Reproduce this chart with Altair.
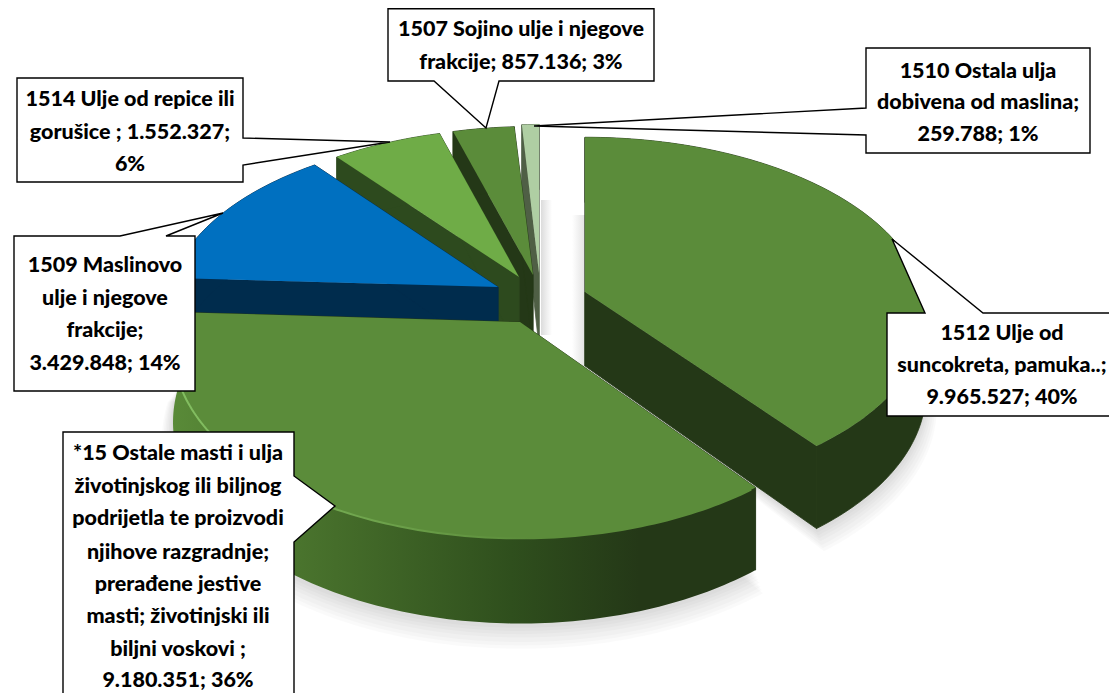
import math
import altair as alt
import pandas as pd

# ---- values ----
categories = ["1512", "*15", "1509", "1514", "1507", "1510"]
values = [9965527, 9180351, 3429848, 1552327, 857136, 259788]

label_lines = [
    ["1512 Ulje od", "suncokreta, pamuka..;", "9.965.527; 40%"],
    ["*15 Ostale masti i ulja", "životinjskog ili biljnog", "podrijetla te proizvodi",
     "njihove razgradnje;", "prerađene jestive", "masti; životinjski ili",
     "biljni voskovi  ;", "9.180.351; 36%"],
    ["1509 Maslinovo", "ulje i njegove", "frakcije;", "3.429.848; 14%"],
    ["1514 Ulje od repice ili", "gorušice ; 1.552.327;", "6%"],
    ["1507 Sojino ulje i njegove", "frakcije; 857.136; 3%"],
    ["1510 Ostala ulja", "dobivena od maslina;", "259.788; 1%"],
]

# ---- layout (target pixels) ----
OFF = 8
K = 0.131
DEPTH = 74
geom = {
    "1512": dict(apex=(585, 292), a=338, b=175),
    "*15": dict(apex=(520, 322), a=344, b=188),
    "1509": dict(apex=(498, 287), a=328, b=171),
    "1514": dict(apex=(519, 277), a=326, b=168),
    "1507": dict(apex=(533, 275), a=328, b=168),
    "1510": dict(apex=(539, 273), a=300, b=168),
}
style = {
    "1512": dict(top="#5b8c3a", side="#243817", cut="#243817"),
    "*15": dict(top="#5b8c3a", side="#243817", cut="#243817"),
    "1509": dict(top="#0070c0", side="#002c4d", cut="#002c4d"),
    "1514": dict(top="#6fac47", side="#2d4a1e", cut="#2d4a1e"),
    "1507": dict(top="#5b8c3a", side="#243817", cut="#243817"),
    "1510": dict(top="#afcea3", side="#4f5f45", cut="#4f5f45"),
}
callouts = {
    "1512": dict(box=(887, 313, 1130, 416), wedge=("top", 925, 983), tip=(892, 239), cx=1002, ys=[334, 366, 398]),
    "*15": dict(box=(63, 432, 294, 700), wedge=("right", 476, 542), tip=(335, 506), cx=178,
                ys=[454, 487, 519, 553, 585, 617, 650, 681]),
    "1509": dict(box=(14, 236, 195, 391), wedge=("top", 120, 166), tip=(223, 213), cx=105, ys=[266, 299, 331, 364]),
    "1514": dict(box=(17, 78, 243, 182), wedge=("right", 138, 165), tip=(390, 142), cx=130, ys=[100, 133, 165]),
    "1507": dict(box=(388, 8.7, 654, 81), wedge=("bottom", 434, 499), tip=(486, 128), cx=521, ys=[30, 63]),
    "1510": dict(box=(866, 48, 1090, 153), wedge=("left", 108, 135), tip=(534, 126), cx=978, ys=[72, 103, 135]),
}
gap_shadows = [(541, 200, 552, 335, "#dcdcdc", "#ffffff"), (572, 215, 585, 372, "#ffffff", "#e2e2e2")]


def rim(g, deg, drop=0.0, grow=1.0):
    t = math.radians(deg)
    X, F = math.sin(t), -math.cos(t)
    w = 1 - K * F
    return (g["apex"][0] + grow * g["a"] * X / w - OFF,
            g["apex"][1] + grow * g["b"] * F / w + drop / w - OFF)


def arc(g, t0, t1, drop=0.0, grow=1.0):
    n = max(2, int(abs(t1 - t0)) + 1)
    return [rim(g, t0 + (t1 - t0) * i / (n - 1), drop, grow) for i in range(n)]


def poly(pts):
    ring = [list(p) for p in pts] + [list(pts[0])]
    return {"type": "Feature", "properties": {}, "geometry": {"type": "Polygon", "coordinates": [ring]}}


def polyline(pts):
    return {"type": "Feature", "properties": {}, "geometry": {"type": "LineString", "coordinates": [list(p) for p in pts]}}


PROJ = dict(type="identity", scale=1, translate=[0, 0])


def shape(feature, **kw):
    return alt.Chart(alt.Data(values=[feature])).mark_geoshape(**kw).project(**PROJ)


def callout_outline(c):
    l, t, r, b = c["box"]
    side, p, q = c["wedge"]
    tip = c["tip"]
    if side == "top":
        pts = [(l, t), (p, t), tip, (q, t), (r, t), (r, b), (l, b)]
    elif side == "right":
        pts = [(l, t), (r, t), (r, p), tip, (r, q), (r, b), (l, b)]
    elif side == "bottom":
        pts = [(l, t), (r, t), (r, b), (q, b), tip, (p, b), (l, b)]
    else:
        pts = [(l, t), (r, t), (r, b), (l, b), (l, q), tip, (l, p)]
    return [(x - OFF, y - OFF) for x, y in pts]


total = sum(values)
angles = {}
acc = 0.0
for cat, v in zip(categories, values):
    angles[cat] = (acc / total * 360, (acc + v) / total * 360)
    acc += v

layers = []

# soft ground shadow
steps = [(16, 1.032), (14, 1.027), (12, 1.022), (9, 1.017), (7, 1.012), (5, 1.008), (3, 1.004)]
for extra, grow in steps:
    for cat in ["1512", "*15"]:
        g = geom[cat]
        t0, t1 = angles[cat]
        pts = arc(g, t0, t1, DEPTH + extra, grow) + [(g["apex"][0] - OFF, g["apex"][1] - OFF + DEPTH)]
        layers.append(shape(poly(pts), fill="#000000", fillOpacity=0.02, stroke=None))

# soft shadows inside the gap beside the detached slices
for l, t, r, b, c0, c1 in gap_shadows:
    fade = alt.Gradient(gradient="linear", x1=0, x2=1, y1=0, y2=0,
                        stops=[alt.GradientStop(color=c0, offset=0), alt.GradientStop(color=c1, offset=1)])
    pts = [(l - OFF, t - OFF), (r - OFF, t - OFF), (r - OFF, b - OFF), (l - OFF, b - OFF)]
    layers.append(shape(poly(pts), fill=fade, stroke=None))

side_gradient = alt.Gradient(
    gradient="linear", x1=0, x2=1, y1=0, y2=0,
    stops=[alt.GradientStop(color="#598a38", offset=0),
           alt.GradientStop(color="#456d2a", offset=0.28),
           alt.GradientStop(color="#2f4f1d", offset=0.58),
           alt.GradientStop(color="#243817", offset=0.8),
           alt.GradientStop(color="#243817", offset=1)])
rim_gradient = alt.Gradient(
    gradient="linear", x1=0, x2=1, y1=0, y2=0,
    stops=[alt.GradientStop(color="#84c062", offset=0),
           alt.GradientStop(color="#6ea34c", offset=0.35),
           alt.GradientStop(color="#5b8c3a", offset=0.62),
           alt.GradientStop(color="#5b8c3a", offset=1)])

# slices, back to front
for cat in ["1510", "1507", "1514", "1509", "1512", "*15"]:
    g, s = geom[cat], style[cat]
    t0, t1 = angles[cat]
    apex_top = (g["apex"][0] - OFF, g["apex"][1] - OFF)
    apex_bot = (apex_top[0], apex_top[1] + DEPTH)
    for t in (t0, t1):
        pts = [apex_top, rim(g, t), rim(g, t, DEPTH), apex_bot]
        layers.append(shape(poly(pts), fill=s["cut"], stroke=s["cut"], strokeWidth=0.8))
    outer = arc(g, t0, t1) + arc(g, t1, t0, DEPTH)
    if cat == "*15":
        layers.append(shape(poly(outer), fill=side_gradient, stroke=None))
    else:
        layers.append(shape(poly(outer), fill=s["side"], stroke=s["side"], strokeWidth=0.8))
    layers.append(shape(poly([apex_top] + arc(g, t0, t1)), fill=s["top"], stroke=None))
    if cat == "*15":
        layers.append(shape(polyline(arc(g, 143, 262)[::-1]), fill=None, stroke=rim_gradient, strokeWidth=2))

# callouts
for cat in categories:
    layers.append(shape(poly(callout_outline(callouts[cat])), fill="#ffffff", stroke="#000000", strokeWidth=1.4))

# callout text
rows = []
for cat, lines in zip(categories, label_lines):
    c = callouts[cat]
    for line, y in zip(lines, c["ys"]):
        rows.append({"x": c["cx"] - OFF, "y": y - OFF, "t": line})
text = alt.Chart(pd.DataFrame(rows)).mark_text(
    font="Lato", fontWeight=900, fontSize=21.5, color="#000000",
    align="center", baseline="middle"
).encode(x=alt.X("x:Q", scale=None), y=alt.Y("y:Q", scale=None), text="t:N")
layers.append(text)

chart = alt.layer(*layers).properties(
    width=1101, height=685, padding=0, background="#ffffff", autosize=alt.AutoSizeParams(type="none")
).configure_view(stroke=None)

chart.save("out.html", embed_options={"renderer": "svg", "actions": False})
